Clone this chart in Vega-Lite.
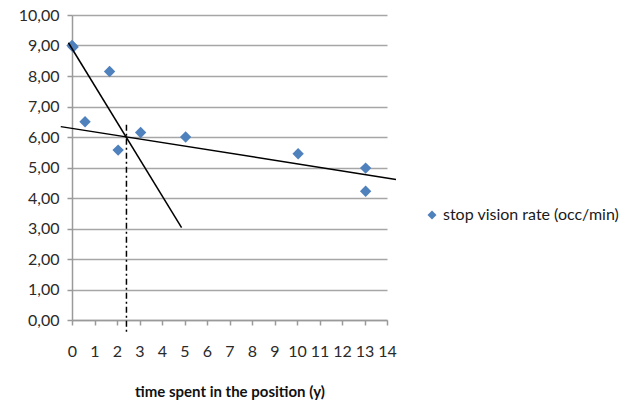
{
  "$schema": "https://vega.github.io/schema/vega-lite/v6.json",
  "width": 315,
  "height": 305,
  "autosize": {"type": "none"},
  "padding": {"left": 72, "top": 15, "right": 251, "bottom": 85},
  "background": "white",
  "config": {
    "view": {"stroke": null},
    "font": "Lato",
    "axis": {
      "labelFont": "Lato",
      "labelFontSize": 16,
      "labelColor": "#2a2a2a",
      "labelOverlap": false,
      "labelFlush": false,
      "domainColor": "#9a9a9a",
      "domainWidth": 1.5,
      "tickColor": "#9a9a9a",
      "tickWidth": 1.5,
      "tickSize": 5,
      "gridColor": "#a6a6a6",
      "gridWidth": 1.5
    }
  },
  "datasets": {
    "points": [
      {"t": 0, "rate": 9.0, "series": "stop vision rate (occ/min)"},
      {"t": 0.05, "rate": 8.95, "series": "stop vision rate (occ/min)"},
      {"t": 0.58, "rate": 6.5, "series": "stop vision rate (occ/min)"},
      {"t": 1.67, "rate": 8.15, "series": "stop vision rate (occ/min)"},
      {"t": 2.05, "rate": 5.57, "series": "stop vision rate (occ/min)"},
      {"t": 3.05, "rate": 6.15, "series": "stop vision rate (occ/min)"},
      {"t": 5.05, "rate": 6.0, "series": "stop vision rate (occ/min)"},
      {"t": 10.05, "rate": 5.45, "series": "stop vision rate (occ/min)"},
      {"t": 13.05, "rate": 4.98, "series": "stop vision rate (occ/min)"},
      {"t": 13.05, "rate": 4.22, "series": "stop vision rate (occ/min)"}
    ],
    "trends": [
      {"line": "steep", "t": -0.16, "rate": 9.09},
      {"line": "steep", "t": 4.87, "rate": 3.03},
      {"line": "flat", "t": -0.5, "rate": 6.34},
      {"line": "flat", "t": 14.4, "rate": 4.61}
    ],
    "marker": [
      {"t": 2.42, "rate": 6.4},
      {"t": 2.42, "rate": -0.45}
    ]
  },
  "encoding": {
    "x": {
      "field": "t", "type": "quantitative",
      "scale": {"domain": [0, 14], "nice": false, "zero": false},
      "axis": {
        "values": [0,1,2,3,4,5,6,7,8,9,10,11,12,13,14],
        "tickCount": 15,
        "labelOverlap": false,
        "grid": false,
        "labelPadding": 18,
        "title": "time spent in the position  (y)",
        "titleFont": "Lato",
        "titleFontSize": 15,
        "titleFontWeight": "bold",
        "titleColor": "#111",
        "titlePadding": 25
      }
    },
    "y": {
      "field": "rate", "type": "quantitative",
      "scale": {"domain": [0, 10], "nice": false},
      "axis": {
        "values": [0,1,2,3,4,5,6,7,8,9,10],
        "tickCount": 11,
        "labelOverlap": false,
        "labelExpr": "replace(format(datum.value, '.2f'), '.', ',')",
        "labelPadding": 8,
        "title": null
      }
    }
  },
  "layer": [
    {
      "data": {"name": "points"},
      "mark": {"type": "point", "filled": true, "opacity": 1, "size": 130},
      "encoding": {
        "color": {
          "field": "series", "type": "nominal",
          "scale": {"range": ["#4F81BD"]},
          "legend": {
            "title": null,
            "orient": "none",
            "legendX": 352,
            "legendY": 192,
            "labelFont": "Lato",
            "labelFontSize": 16,
            "labelColor": "#1a1a1a",
            "labelLimit": 0,
            "labelOffset": 3,
            "symbolSize": 80,
            "symbolOffset": 0
          }
        },
        "shape": {
          "field": "series", "type": "nominal",
          "scale": {"range": ["diamond"]}
        }
      }
    },
    {
      "data": {"name": "trends"},
      "mark": {"type": "line", "color": "black", "strokeWidth": 1.5, "clip": false},
      "encoding": {
        "detail": {"field": "line"}
      }
    },
    {
      "data": {"name": "marker"},
      "mark": {"type": "line", "color": "black", "strokeWidth": 1.5, "strokeDash": [6, 3, 2, 3], "clip": false},
      "encoding": {}
    }
  ]
}
